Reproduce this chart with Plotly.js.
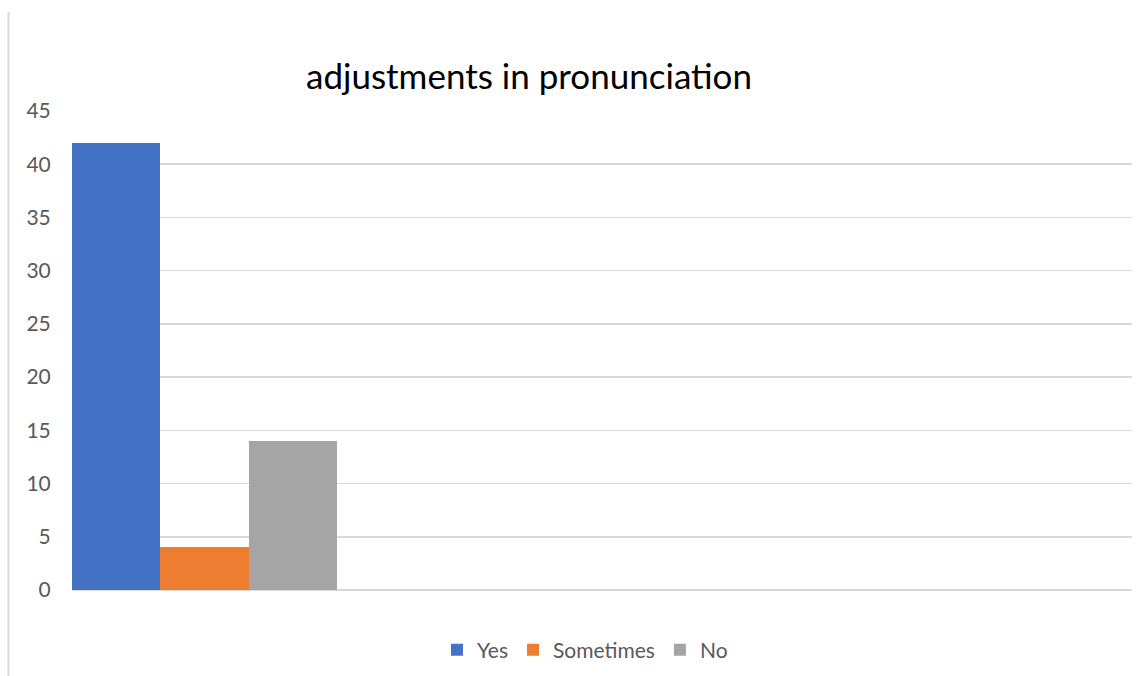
<!DOCTYPE html>
<html>
<head>
<meta charset="utf-8">
<script src="https://cdn.plot.ly/plotly-3.0.1.min.js"></script>
<style>
  html, body { margin: 0; padding: 0; background: #ffffff; }
  #chart { width: 1148px; height: 676px; }
</style>
</head>
<body>
<div id="chart"></div>
<script>
// Responses to "adjustments in pronunciation"
const seriesNames = ["Yes", "Sometimes", "No"];
const seriesValues = [42, 4, 14];
const seriesColors = ["#4472C4", "#ED7D31", "#A5A5A5"];
const yTicks = [0, 5, 10, 15, 20, 25, 30, 35, 40, 45];

const traces = seriesNames.map((name, i) => ({
  type: "bar",
  name: name,
  x: [0],
  y: [seriesValues[i]],
  marker: { color: seriesColors[i] },
  hoverinfo: "name+y"
}));

const layout = {
  width: 1148,
  height: 676,
  margin: { l: 72, r: 16, t: 111, b: 86, autoexpand: false },
  paper_bgcolor: "#ffffff",
  plot_bgcolor: "#ffffff",
  font: { family: "Lato, 'Open Sans', sans-serif", color: "#595959" },
  title: {
    text: "adjustments in pronunciation",
    font: { size: 35, color: "#000000", family: "Lato, 'Open Sans', sans-serif" },
    x: 529 / 1148,
    xanchor: "center",
    y: 1 - 77 / 676,
    yanchor: "middle"
  },
  barmode: "group",
  bargap: 0,
  bargroupgap: 0,
  xaxis: {
    range: [-0.5, 3.5],
    showticklabels: false,
    showgrid: false,
    zeroline: false,
    showline: false,
    ticks: "",
    fixedrange: true
  },
  yaxis: {
    range: [0, 45],
    tickvals: yTicks,
    ticktext: yTicks.map(String),
    showgrid: true,
    gridcolor: "#d9d9d9",
    gridwidth: 1.5,
    zeroline: true,
    zerolinecolor: "#d9d9d9",
    zerolinewidth: 1.5,
    showline: false,
    ticks: "outside",
    ticklen: 16,
    tickcolor: "rgba(0,0,0,0)",
    tickfont: { size: 21, color: "#595959" },
    fixedrange: true
  },
  showlegend: true,
  legend: {
    orientation: "h",
    x: (585 - 72) / 1060,
    xanchor: "center",
    y: (590 - 650) / 479,
    yanchor: "middle",
    font: { size: 21, color: "#595959" },
    itemwidth: 30,
    traceorder: "normal"
  },
  shapes: [{
    type: "line",
    xref: "paper",
    yref: "paper",
    x0: (8.5 - 72) / 1060,
    x1: (8.5 - 72) / 1060,
    y0: (590 - 12) / 479,
    y1: (590 - 676) / 479,
    line: { color: "#d9d9d9", width: 2 }
  }]
};

Plotly.newPlot("chart", traces, layout, { displayModeBar: false, staticPlot: true });
</script>
</body>
</html>
